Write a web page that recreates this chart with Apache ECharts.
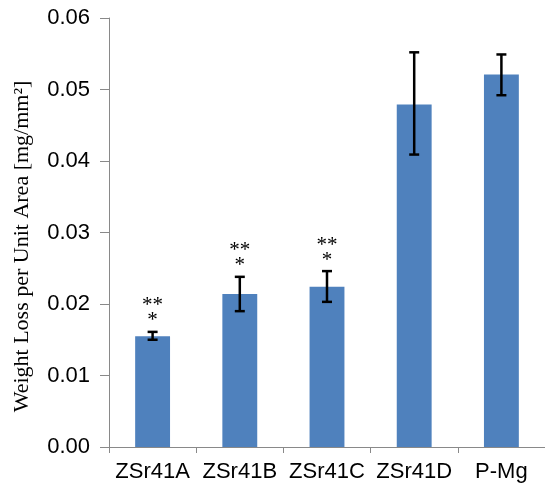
<!DOCTYPE html>
<html>
<head>
<meta charset="utf-8">
<style>
  html, body { margin: 0; padding: 0; background: #fff; }
  #chart-container { width: 545px; height: 487px; }
</style>
</head>
<body>
<div id="chart-container"></div>
<script src="https://fastly.jsdelivr.net/npm/echarts@6/dist/echarts.min.js"></script>
<script type="text/javascript">
// data
var categories = ['ZSr41A', 'ZSr41B', 'ZSr41C', 'ZSr41D', 'P-Mg'];
var weightLoss = [0.0155, 0.0214, 0.0224, 0.0479, 0.0521];
var errLow = [0.0150, 0.0190, 0.0203, 0.0409, 0.0492];
var errHigh = [0.0161, 0.0238, 0.0246, 0.0552, 0.0549];
var sigMarks = ['***', '***', '***', '', ''];

var axisGray = '#898989';

var dom = document.getElementById('chart-container');
var myChart = echarts.init(dom, null, { renderer: 'canvas' });

// error bars plus the significance stars on top
function renderErrorBar(params, api) {
    var idx = api.value(0);
    var lowPt = api.coord([idx, api.value(1)]);
    var highPt = api.coord([idx, api.value(2)]);
    var capHalf = 5;
    var lineStyle = { stroke: '#000', lineWidth: 2.5 };
    var children = [
        { type: 'line', shape: { x1: highPt[0], y1: highPt[1], x2: lowPt[0], y2: lowPt[1] }, style: lineStyle },
        { type: 'line', shape: { x1: highPt[0] - capHalf, y1: highPt[1], x2: highPt[0] + capHalf, y2: highPt[1] }, style: lineStyle },
        { type: 'line', shape: { x1: lowPt[0] - capHalf, y1: lowPt[1], x2: lowPt[0] + capHalf, y2: lowPt[1] }, style: lineStyle }
    ];
    var mark = sigMarks[idx];
    if (mark) {
        var starFont = '21px "Liberation Serif", "Times New Roman", serif';
        children.push({
            type: 'text',
            style: { text: mark.slice(1), x: highPt[0], y: highPt[1] - 26, align: 'center', verticalAlign: 'middle', font: starFont, fill: '#000' }
        });
        children.push({
            type: 'text',
            style: { text: mark.slice(0, 1), x: highPt[0], y: highPt[1] - 11, align: 'center', verticalAlign: 'middle', font: starFont, fill: '#000' }
        });
    }
    return { type: 'group', children: children };
}

var errorData = categories.map(function (c, i) {
    return [i, errLow[i], errHigh[i]];
});

var option = {
    animation: false,
    grid: { left: 109, top: 18, width: 440, bottom: 40 },
    xAxis: {
        type: 'category',
        data: categories,
        axisLine: { lineStyle: { color: axisGray, width: 1 } },
        axisTick: { show: true, length: 6, lineStyle: { color: axisGray } },
        axisLabel: {
            interval: 0,
            margin: 14,
            color: '#000',
            fontSize: 22,
            fontFamily: '"Liberation Sans", Arial, sans-serif'
        }
    },
    yAxis: {
        type: 'value',
        min: 0,
        max: 0.06,
        interval: 0.01,
        name: 'Weight Loss per Unit Area [mg/mm²]',
        nameLocation: 'middle',
        nameRotate: 90,
        nameGap: 76,
        nameTextStyle: {
            color: '#000',
            fontSize: 22,
            fontFamily: '"Liberation Serif", "Times New Roman", serif',
            padding: [0, 28, 0, 0]
        },
        axisLine: { show: true, lineStyle: { color: axisGray, width: 1 } },
        axisTick: { show: true, length: 9, lineStyle: { color: axisGray } },
        splitLine: { show: false },
        axisLabel: {
            margin: 19,
            color: '#000',
            fontSize: 22,
            fontFamily: '"Liberation Sans", Arial, sans-serif',
            formatter: function (v) { return v.toFixed(2); }
        }
    },
    series: [
        {
            type: 'bar',
            data: weightLoss,
            barWidth: '40%',
            itemStyle: { color: '#4F81BD' }
        },
        {
            type: 'custom',
            renderItem: renderErrorBar,
            data: errorData,
            z: 10
        }
    ]
};

myChart.setOption(option);
window.addEventListener('resize', myChart.resize);
</script>
</body>
</html>
